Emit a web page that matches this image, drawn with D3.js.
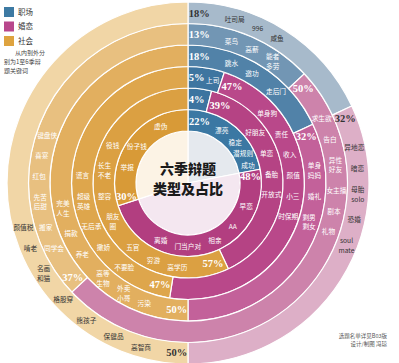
<!DOCTYPE html>
<html>
<head>
<meta charset="utf-8">
<script src="https://cdn.jsdelivr.net/npm/d3@7"></script>
<style>
  body { margin: 0; background: #fff; }
  svg { display: block; font-family: "Noto Sans CJK SC", "Noto Sans", sans-serif; }
</style>
</head>
<body>
<svg id="chart" width="399" height="363"></svg>
<script>
// categories and seasons (inner ring = season 1)
const categories = ["职场", "婚恋", "社会"];
const seasons = ["第一季", "第二季", "第三季", "第四季", "第五季", "第六季"];

// share of topics per season, %
const workShare = [22, 4, 5, 18, 13, 18];
const loveShare = [48, 39, 47, 32, 50, 32];
const socialShare = [30, 57, 47, 50, 37, 50];

// keywords per season ("|" = line break)
const workTopics = [
  ["漂亮", "稳定", "潜规则", "成功"],
  [],
  ["上司"],
  ["跳水", "邀功", "走后门"],
  ["菜鸟", "高薪", "能者|多劳"],
  ["吐司局", "996", "咸鱼"]
];
const loveTopics = [
  ["早恋", "AA", "相亲", "门当户对", "离婚"],
  ["好朋友", "单恋", "备胎", "开放式"],
  ["单身狗", "责任", "收入", "颜值", "小三", "时保期"],
  ["单身|妈妈", "婚礼", "剩男|剩女"],
  ["求生欲", "告白", "异性|好友", "女主播", "剧本", "礼物"],
  ["异地恋", "暗恋", "母胎|solo", "恐婚", "soul|mate"]
];
const socialTopics = [
  ["举报", "份子钱", "虚伪"],
  ["高学历", "穷游", "五官", "朋友|圈", "整容", "长生|不老", "役钱"],
  ["不要脸", "撒娇", "无后承", "超级|英雄", "谎言"],
  ["污染", "外卖|小哥", "高等|生物", "养老", "捐款", "完美|人生"],
  ["同学会", "搬家", "先苦|后甜", "红包", "喜宴", "键盘侠"],
  ["高智商", "保健品", "熊孩子", "格股穿", "名画|和猫", "啃老", "颜值税"]
];

const shareCols = [workShare, loveShare, socialShare];
const topicCols = [workTopics, loveTopics, socialTopics];

const ringColor = [
  ["#3b78a3", "#3c74a0", "#3e75a0", "#5182a8", "#7296b4", "#a7bacb"],
  ["#b23e80", "#b54384", "#b9488a", "#c3619a", "#cd83ab", "#ddafc7"],
  ["#d89a37", "#dba042", "#dea64c", "#e2af5f", "#e8c080", "#f1d6a6"]
];
const coreColor = ["#e5e9ee", "#f4e7f0", "#fcf3e5"];
const legendColor = ["#3d7aa3", "#b8478c", "#dea33f"];

const cx = 188, cy = 183;
const innerR = 52, outerR = 181;

const svg = d3.select("#chart");
const g = svg.append("g").attr("transform", "translate(" + cx + "," + cy + ")");

const ring = d3.scaleLinear().domain([0, seasons.length]).range([innerR, outerR]);
const pie = d3.pie().sort(null).value(d => d.value);

// centre disc
const core = pie(categories.map((c, k) => ({ cat: k, value: shareCols[k][0] })));
g.selectAll(".core")
  .data(core)
  .enter()
  .append("path")
  .attr("class", "core")
  .attr("d", d3.arc().innerRadius(0).outerRadius(innerR))
  .attr("fill", d => coreColor[d.data.cat])
  .attr("stroke", "#fff")
  .attr("stroke-width", 1.2);

// rings
const segments = [];
seasons.forEach((s, i) => {
  const arcs = pie(categories.map((c, k) => ({ cat: k, value: shareCols[k][i] })));
  g.append("g")
    .selectAll("path")
    .data(arcs)
    .enter()
    .append("path")
    .attr("d", d3.arc().innerRadius(ring(i)).outerRadius(ring(i + 1)))
    .attr("fill", d => ringColor[d.data.cat][i])
    .attr("stroke", "#fff")
    .attr("stroke-width", 1.2);
  arcs.forEach(a => segments.push({ season: i, arc: a }));
});

// labels flow clockwise from the start of each segment
const labels = g.append("g");
const fs = 6.7, lineH = 1.47;
const pad = 0.5, gapX = 7, gapY = 14, pctExtra = 8;

function addLabel(item, dark) {
  const t = labels.append("text")
    .attr("text-anchor", "middle")
    .attr("fill", dark ? "#333" : "#fff");
  if (item.pct) {
    t.attr("font-family", "'Liberation Serif', 'DejaVu Serif', serif")
      .attr("font-weight", 700)
      .attr("font-size", 10.5)
      .text(item.text);
    item.h = 8;
  } else {
    const lines = item.text.split("|");
    t.attr("font-size", fs);
    lines.forEach((ln, j) => {
      t.append("tspan").attr("x", 0).attr("dy", j ? lineH + "em" : 0).text(ln);
    });
    item.h = fs + (lines.length - 1) * fs * lineH;
  }
  item.node = t;
  item.bb = t.node().getBBox();
  item.w = item.bb.width;
}

function extent(it, a) {
  return (it.w * Math.abs(Math.cos(a)) + it.h * Math.abs(Math.sin(a))) / 2;
}

function sep(a, b, ang, gx, gy) {
  const c = Math.abs(Math.cos(ang)), s = Math.abs(Math.sin(ang));
  const dx = c > 0.01 ? ((a.w + b.w) / 2 + gx) / c : 1e9;
  const dy = s > 0.01 ? ((a.h + b.h) / 2 + gy) / s : 1e9;
  return Math.min(dx, dy);
}

function flow(items, a0, r, f) {
  let prev = null;
  items.forEach(it => {
    let a = (prev ? prev.a : a0) + 0.1;
    for (let k = 0; k < 5; k++) {
      if (!prev) {
        a = a0 + (extent(it, a) + pad) / r;
      } else {
        const mid = (prev.a + a) / 2;
        const extra = prev.pct ? pctExtra : 0;
        a = prev.a + sep(prev, it, mid, (gapX + extra) * f, (gapY + extra) * f) / r;
      }
    }
    it.a = a;
    prev = it;
  });
}

// tighten the gaps when a segment is too short for its words
function layout(items, a0, a1, r) {
  for (let f = 1; f >= 0; f -= 0.05) {
    flow(items, a0, r, f);
    const last = items[items.length - 1];
    if (last.a + (extent(last, last.a) + 1) / r <= a1) return;
  }
}

segments.forEach(seg => {
  const i = seg.season, k = seg.arc.data.cat;
  const value = shareCols[k][i];
  if (!value) return;
  const dark = i === seasons.length - 1;
  const items = [{ text: value + "%", pct: true }]
    .concat(topicCols[k][i].map(t => ({ text: t })));
  items.forEach(it => addLabel(it, dark));
  const r = (ring(i) + ring(i + 1)) / 2;
  layout(items, seg.arc.startAngle, seg.arc.endAngle, r);
  items.forEach(it => {
    const x = r * Math.sin(it.a), y = -r * Math.cos(it.a);
    const bx = it.bb.x + it.bb.width / 2, by = it.bb.y + it.bb.height / 2;
    it.node.attr("transform", "translate(" + (x - bx) + "," + (y - by) + ")");
  });
});

// title
g.append("text")
  .attr("text-anchor", "middle")
  .attr("font-weight", 900)
  .attr("font-size", 14)
  .attr("fill", "#1a1a1a")
  .selectAll("tspan")
  .data(["六季辩题", "类型及占比"])
  .enter()
  .append("tspan")
  .attr("x", 0)
  .attr("y", (d, j) => -9.5 + j * 20.5)
  .text(d => d);

// legend
const legend = svg.append("g").attr("transform", "translate(4,7)");
categories.forEach((c, k) => {
  legend.append("rect")
    .attr("x", 0).attr("y", k * 14.5)
    .attr("width", 10).attr("height", 10)
    .attr("fill", legendColor[k]);
  legend.append("text")
    .attr("x", 14).attr("y", k * 14.5 + 7.5)
    .attr("font-size", 7.5).attr("fill", "#333")
    .text(c);
});
const note = ["从内到外分", "别为1至6季辩", "题关键词"];
svg.append("g")
  .selectAll("text")
  .data(note)
  .enter()
  .append("text")
  .attr("x", (d, j) => j ? 4 : 15)
  .attr("y", (d, j) => 55 + j * 8.8)
  .attr("font-size", 6)
  .attr("fill", "#444")
  .text(d => d);

// credit
const credit = ["选题名单详见B03版", "设计/制图 冯琼"];
svg.append("g")
  .selectAll("text")
  .data(credit)
  .enter()
  .append("text")
  .attr("x", 387)
  .attr("y", (d, j) => 338 + j * 8.2)
  .attr("text-anchor", "end")
  .attr("font-size", 5.5)
  .attr("fill", "#555")
  .text(d => d);
</script>
</body>
</html>
